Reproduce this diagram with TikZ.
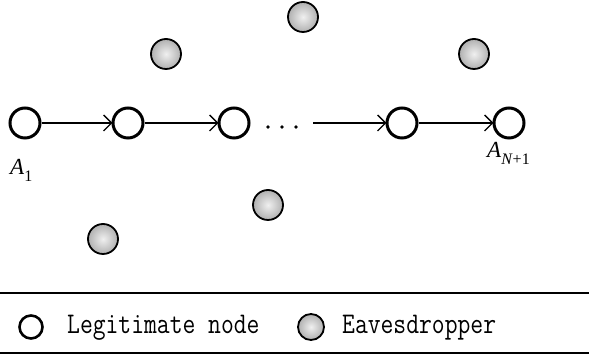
\documentclass[tikz,border=0pt]{standalone}
\usepackage{fontspec}
\setmainfont{Liberation Serif}
\newfontfamily\legfont[FakeStretch=0.83]{Latin Modern Mono}
\usetikzlibrary{arrows.meta}
\tikzset{
  legit/.style={circle, draw=black, line width=3pt, minimum size=30pt, inner sep=0pt},
  eaves/.style={circle, draw=black, line width=1.8pt, minimum size=30pt, inner sep=0pt,
    shading=radial, inner color=gray!12, outer color=gray!62},
  link/.style={line width=1.3pt, -{Straight Barb[length=8pt,width=16pt,line width=1.3pt]}, shorten >=-1pt},
  lbl/.style={inner sep=0pt, anchor=base west, font=\fontsize{23}{23}\selectfont},
  legtext/.style={inner sep=0pt, anchor=base west, font=\legfont\fontsize{30}{30}\selectfont},
  rule/.style={line width=2pt},
  dotmark/.style={circle, fill=black, inner sep=0pt, minimum size=3.6pt}
}
\newcommand{\subsc}[1]{\raisebox{-7pt}{\fontsize{16}{16}\selectfont #1}}
\begin{document}
\begin{tikzpicture}[x=1pt,y=1pt]
\useasboundingbox (0,0) rectangle (589,355);
% eavesdroppers
\node[eaves] (e1) at (303,338) {};
\node[eaves] (e2) at (166,301) {};
\node[eaves] (e3) at (474,301) {};
\node[eaves] (e4) at (268,150) {};
\node[eaves] (e5) at (103,116) {};
% legitimate nodes
\node[legit] (n1) at (25,232) {};
\node[legit] (n2) at (128,232) {};
\node[legit] (n3) at (234,232) {};
\node[legit] (n4) at (402,232) {};
\node[legit] (n5) at (509,232) {};
% dots
\node[dotmark] (d1) at (268,228) {};
\node[dotmark] (d2) at (282,228) {};
\node[dotmark] (d3) at (296,228) {};
\coordinate (dend) at (313,232);
% links
\draw[link] (n1) -- (n2);
\draw[link] (n2) -- (n3);
\draw[link] (dend) -- (n4);
\draw[link] (n4) -- (n5);
% labels
\node[lbl] (a1) at (10,180) {\textit{A}\subsc{1}};
\node[lbl] (an) at (487,197) {\textit{A}\subsc{\textit{N}+1}};
% legend
\draw[rule] (0,62) -- (589,62);
\draw[rule] (0,2) -- (589,2);
\node[legit, line width=2.6pt, minimum size=23pt] (lg1) at (31,28) {};
\node[legtext] (lt1) at (67,21) {Legitimate node};
\node[eaves, minimum size=26pt] (lg2) at (311,28) {};
\node[legtext] (lt2) at (342,21) {Eavesdropper};
\end{tikzpicture}
\end{document}
